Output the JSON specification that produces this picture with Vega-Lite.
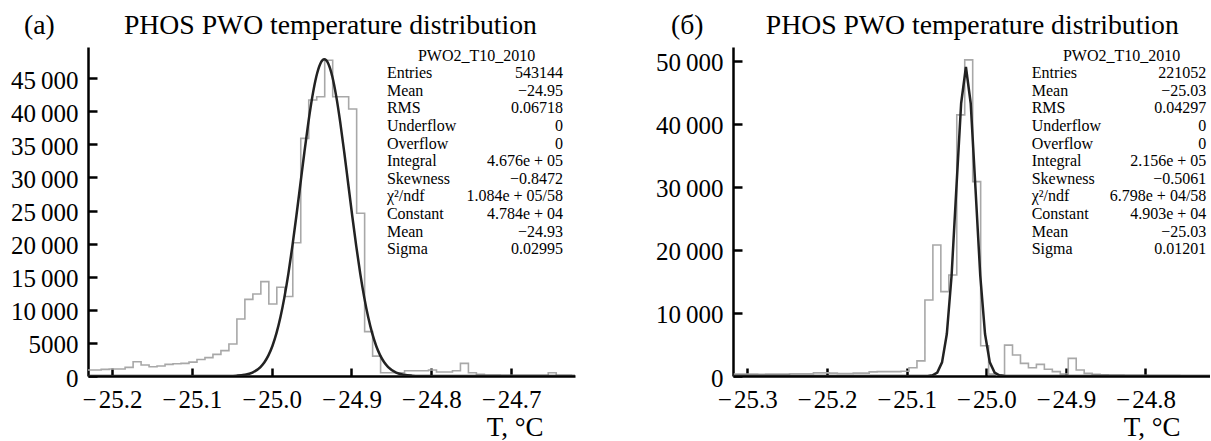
{
  "$schema": "https://vega.github.io/schema/vega-lite/v6.json",
  "padding": {"left": 10, "top": 12, "right": 0, "bottom": 0},
  "bounds": "flush",
  "spacing": 158,
  "background": "white",
  "config": {
    "view": {"stroke": null},
    "font": "Liberation Serif",
    "axis": {
      "domainColor": "black", "domainWidth": 2.5, "tickColor": "black", "tickWidth": 2.5,
      "labelFont": "Liberation Serif", "labelFontSize": 25, "labelColor": "black",
      "grid": false, "titleFont": "Liberation Serif", "titleFontSize": 27,
      "titleFontWeight": "normal", "titleColor": "black", "labelFlush": false, "labelOverlap": false
    },
    "axisQuantitative": {"labelOverlap": false},
    "axisX": {"tickSize": -8, "labelPadding": 39, "labelBaseline": "alphabetic", "titleAlign": "right", "titleBaseline": "alphabetic", "titleY": 59, "titleAnchor": "start", "labelOverlap": false},
    "axisY": {"tickSize": -9, "labelPadding": 19, "labelOffset": 2, "labelOverlap": false, "labelSeparation": -30}
  },
  "datasets": {
    "histA": [
      {"t": -25.2335, "n": 900}, {"t": -25.2235, "n": 900}, {"t": -25.2135, "n": 1000}, {"t": -25.2035, "n": 1050},
      {"t": -25.1935, "n": 1050}, {"t": -25.1835, "n": 1300}, {"t": -25.1735, "n": 2150}, {"t": -25.1635, "n": 1660},
      {"t": -25.1535, "n": 1400}, {"t": -25.1435, "n": 1500}, {"t": -25.1335, "n": 1760}, {"t": -25.1235, "n": 1860},
      {"t": -25.1135, "n": 1910}, {"t": -25.1035, "n": 2100}, {"t": -25.0935, "n": 2500}, {"t": -25.0835, "n": 2770},
      {"t": -25.0735, "n": 3270}, {"t": -25.0635, "n": 3830}, {"t": -25.0535, "n": 4830}, {"t": -25.0435, "n": 8600},
      {"t": -25.0335, "n": 11580}, {"t": -25.0235, "n": 12380}, {"t": -25.0135, "n": 14250}, {"t": -25.0035, "n": 10880},
      {"t": -24.9935, "n": 13400}, {"t": -24.9835, "n": 12000}, {"t": -24.9735, "n": 20140}, {"t": -24.9635, "n": 35900},
      {"t": -24.9535, "n": 41690}, {"t": -24.9435, "n": 42190}, {"t": -24.9335, "n": 47700}, {"t": -24.9235, "n": 42190},
      {"t": -24.9135, "n": 42190}, {"t": -24.9035, "n": 40330}, {"t": -24.8935, "n": 24580}, {"t": -24.8835, "n": 6700},
      {"t": -24.8735, "n": 3000}, {"t": -24.8635, "n": 500}, {"t": -24.8535, "n": 500}, {"t": -24.8435, "n": 500},
      {"t": -24.8335, "n": 800}, {"t": -24.8235, "n": 800}, {"t": -24.8135, "n": 800}, {"t": -24.8035, "n": 900},
      {"t": -24.7935, "n": 600}, {"t": -24.7835, "n": 600}, {"t": -24.7735, "n": 800}, {"t": -24.7635, "n": 1900},
      {"t": -24.7535, "n": 500}, {"t": -24.7435, "n": 250}, {"t": -24.7335, "n": 150}, {"t": -24.7235, "n": 150},
      {"t": -24.7135, "n": 120}, {"t": -24.7035, "n": 120}, {"t": -24.6935, "n": 100}, {"t": -24.6835, "n": 100},
      {"t": -24.6735, "n": 100}, {"t": -24.6635, "n": 100}, {"t": -24.6535, "n": 500}, {"t": -24.6435, "n": 100},
      {"t": -24.6335, "n": 100}, {"t": -24.6235, "n": 100}
    ],
    "fitA": [
      {"t": -25.23, "f": 0}, {"t": -25.1, "f": 0}, {"t": -25.074, "f": 1}, {"t": -25.054, "f": 16}, {"t": -25.044, "f": 56},
      {"t": -25.034, "f": 182}, {"t": -25.024, "f": 523}, {"t": -25.014, "f": 1350}, {"t": -25.009, "f": 2080},
      {"t": -25.004, "f": 3116}, {"t": -24.999, "f": 4539}, {"t": -24.994, "f": 6431}, {"t": -24.989, "f": 8861},
      {"t": -24.984, "f": 11875}, {"t": -24.979, "f": 15473}, {"t": -24.974, "f": 19609}, {"t": -24.969, "f": 24168},
      {"t": -24.964, "f": 28968}, {"t": -24.959, "f": 33766}, {"t": -24.954, "f": 38280}, {"t": -24.949, "f": 42201},
      {"t": -24.944, "f": 45246}, {"t": -24.939, "f": 47178}, {"t": -24.934, "f": 47840}, {"t": -24.929, "f": 47178},
      {"t": -24.924, "f": 45246}, {"t": -24.919, "f": 42201}, {"t": -24.914, "f": 38280}, {"t": -24.909, "f": 33766},
      {"t": -24.904, "f": 28968}, {"t": -24.899, "f": 24168}, {"t": -24.894, "f": 19609}, {"t": -24.889, "f": 15473},
      {"t": -24.884, "f": 11875}, {"t": -24.879, "f": 8861}, {"t": -24.874, "f": 6431}, {"t": -24.869, "f": 4539},
      {"t": -24.864, "f": 3116}, {"t": -24.859, "f": 2080}, {"t": -24.854, "f": 1350}, {"t": -24.844, "f": 523},
      {"t": -24.834, "f": 182}, {"t": -24.824, "f": 56}, {"t": -24.814, "f": 16}, {"t": -24.794, "f": 1}, {"t": -24.62, "f": 0}
    ],
    "statsA": [
      {"row": 0, "name": "PWO2_T10_2010", "val": ""},
      {"row": 1, "name": "Entries", "val": "543144"},
      {"row": 2, "name": "Mean", "val": "\u221224.95"},
      {"row": 3, "name": "RMS", "val": "0.06718"},
      {"row": 4, "name": "Underflow", "val": "0"},
      {"row": 5, "name": "Overflow", "val": "0"},
      {"row": 6, "name": "Integral", "val": "4.676e + 05"},
      {"row": 7, "name": "Skewness", "val": "\u22120.8472"},
      {"row": 8, "name": "\u03c7\u00b2/ndf", "val": "1.084e + 05/58"},
      {"row": 9, "name": "Constant", "val": "4.784e + 04"},
      {"row": 10, "name": "Mean", "val": "\u221224.93"},
      {"row": 11, "name": "Sigma", "val": "0.02995"}
    ],
    "histB": [
      {"t": -25.317, "n": 300}, {"t": -25.307, "n": 300}, {"t": -25.297, "n": 300}, {"t": -25.287, "n": 250},
      {"t": -25.277, "n": 300}, {"t": -25.267, "n": 300}, {"t": -25.257, "n": 300}, {"t": -25.247, "n": 350},
      {"t": -25.237, "n": 350}, {"t": -25.227, "n": 350}, {"t": -25.217, "n": 500}, {"t": -25.207, "n": 500},
      {"t": -25.197, "n": 450}, {"t": -25.187, "n": 400}, {"t": -25.177, "n": 400}, {"t": -25.167, "n": 450},
      {"t": -25.157, "n": 450}, {"t": -25.147, "n": 650}, {"t": -25.137, "n": 700}, {"t": -25.127, "n": 700},
      {"t": -25.117, "n": 700}, {"t": -25.107, "n": 750}, {"t": -25.097, "n": 1300}, {"t": -25.087, "n": 2400},
      {"t": -25.077, "n": 12060}, {"t": -25.067, "n": 20790}, {"t": -25.057, "n": 13380}, {"t": -25.047, "n": 16030},
      {"t": -25.037, "n": 41430}, {"t": -25.027, "n": 50160}, {"t": -25.017, "n": 30840}, {"t": -25.007, "n": 4800},
      {"t": -24.997, "n": 300}, {"t": -24.987, "n": 200}, {"t": -24.977, "n": 4900}, {"t": -24.967, "n": 3330},
      {"t": -24.957, "n": 2010}, {"t": -24.947, "n": 1320}, {"t": -24.937, "n": 1850}, {"t": -24.927, "n": 1060},
      {"t": -24.917, "n": 690}, {"t": -24.907, "n": 320}, {"t": -24.897, "n": 2800}, {"t": -24.887, "n": 950},
      {"t": -24.877, "n": 420}, {"t": -24.867, "n": 250}, {"t": -24.857, "n": 200}, {"t": -24.847, "n": 150},
      {"t": -24.837, "n": 150}, {"t": -24.827, "n": 100}, {"t": -24.817, "n": 100}, {"t": -24.807, "n": 100},
      {"t": -24.797, "n": 80}, {"t": -24.787, "n": 80}, {"t": -24.777, "n": 60}, {"t": -24.767, "n": 60},
      {"t": -24.757, "n": 50}, {"t": -24.747, "n": 50}, {"t": -24.737, "n": 40}, {"t": -24.727, "n": 40},
      {"t": -24.717, "n": 40}
    ],
    "fitB": [
      {"t": -25.318, "f": 0}, {"t": -25.09, "f": 0}, {"t": -25.0795, "f": 2}, {"t": -25.0735, "f": 17},
      {"t": -25.0675, "f": 108}, {"t": -25.0615, "f": 549}, {"t": -25.0555, "f": 2166}, {"t": -25.0495, "f": 6658},
      {"t": -25.0435, "f": 15948}, {"t": -25.0375, "f": 29763}, {"t": -25.0315, "f": 43278}, {"t": -25.0255, "f": 49030},
      {"t": -25.0195, "f": 43278}, {"t": -25.0135, "f": 29763}, {"t": -25.0075, "f": 15948}, {"t": -25.0015, "f": 6658},
      {"t": -24.9955, "f": 2166}, {"t": -24.9895, "f": 549}, {"t": -24.9835, "f": 108}, {"t": -24.9775, "f": 17},
      {"t": -24.9715, "f": 2}, {"t": -24.96, "f": 0}, {"t": -24.719, "f": 0}
    ],
    "statsB": [
      {"row": 0, "name": "PWO2_T10_2010", "val": ""},
      {"row": 1, "name": "Entries", "val": "221052"},
      {"row": 2, "name": "Mean", "val": "\u221225.03"},
      {"row": 3, "name": "RMS", "val": "0.04297"},
      {"row": 4, "name": "Underflow", "val": "0"},
      {"row": 5, "name": "Overflow", "val": "0"},
      {"row": 6, "name": "Integral", "val": "2.156e + 05"},
      {"row": 7, "name": "Skewness", "val": "\u22120.5061"},
      {"row": 8, "name": "\u03c7\u00b2/ndf", "val": "6.798e + 04/58"},
      {"row": 9, "name": "Constant", "val": "4.903e + 04"},
      {"row": 10, "name": "Mean", "val": "\u221225.03"},
      {"row": 11, "name": "Sigma", "val": "0.01201"}
    ]
  },
  "hconcat": [
    {
      "width": 487, "height": 329,
      "title": {"text": "(a)\u00a0\u00a0\u00a0\u00a0\u00a0\u00a0\u00a0\u00a0\u00a0\u00a0PHOS PWO temperature distribution", "anchor": "start", "frame": "group", "dx": -64, "offset": -15, "baseline": "alphabetic", "fontSize": 27.7, "fontWeight": "normal", "font": "Liberation Serif", "color": "black"},
      "layer": [
        {
          "layer": [
            {
              "data": {"name": "histA"},
              "mark": {"type": "line", "interpolate": "step-after", "color": "#a8a8a8", "strokeWidth": 1.6, "clip": true},
              "encoding": {
                "x": {"field": "t", "type": "quantitative", "scale": {"domain": [-25.23, -24.62], "nice": false, "zero": false},
                  "axis": {"values": [-25.2, -25.1, -25.0, -24.9, -24.8, -24.7], "labelExpr": "'\u2212\u200a' + format(abs(datum.value), '.1f')", "title": "T, \u00b0C", "titleX": 455, "labelOverlap": false}},
                "y": {"field": "n", "type": "quantitative", "scale": {"domain": [0, 49700], "nice": false, "zero": false},
                  "axis": {"values": [0, 5000, 10000, 15000, 20000, 25000, 30000, 35000, 40000, 45000], "labelExpr": "datum.value >= 10000 ? replace(format(datum.value, ',d'), ',', '\u2009') : format(datum.value, 'd')", "title": null, "labelOverlap": false, "labelSeparation": -30}}
              }
            },
            {
              "data": {"name": "fitA"},
              "mark": {"type": "line", "interpolate": "monotone", "color": "#222222", "strokeWidth": 2.5, "clip": true},
              "encoding": {"x": {"field": "t", "type": "quantitative"},
                "y": {"field": "f", "type": "quantitative",
                  "axis": {"values": [0, 5000, 10000, 15000, 20000, 25000, 30000, 35000, 40000, 45000], "labelExpr": "datum.value >= 10000 ? replace(format(datum.value, ',d'), ',', '\u2009') : format(datum.value, 'd')", "title": null, "labelOverlap": false, "labelSeparation": -30}}}
            }
          ]
        },
        {
          "data": {"name": "statsA"},
          "layer": [
            {
              "transform": [{"filter": "datum.row == 0"}],
              "mark": {"type": "text", "align": "center", "baseline": "middle", "fontSize": 16, "font": "Liberation Serif", "color": "black"},
              "encoding": {"x": {"datum": -24.7433, "type": "quantitative"}, "y": {"field": "row", "type": "quantitative", "scale": {"domain": [-0.494, 18.2], "reverse": true, "nice": false, "zero": false}, "axis": null}, "text": {"field": "name"}}
            },
            {
              "transform": [{"filter": "datum.row > 0"}],
              "mark": {"type": "text", "align": "left", "baseline": "middle", "fontSize": 16, "font": "Liberation Serif", "color": "black"},
              "encoding": {"x": {"datum": -24.8556, "type": "quantitative"}, "y": {"field": "row", "type": "quantitative", "axis": null}, "text": {"field": "name"}}
            },
            {
              "transform": [{"filter": "datum.row > 0"}],
              "mark": {"type": "text", "align": "right", "baseline": "middle", "fontSize": 16, "font": "Liberation Serif", "color": "black"},
              "encoding": {"x": {"datum": -24.635, "type": "quantitative"}, "y": {"field": "row", "type": "quantitative", "axis": null}, "text": {"field": "val"}}
            }
          ]
        }
      ],
      "resolve": {"scale": {"y": "independent"}, "axis": {"y": "independent"}}
    },
    {
      "width": 477, "height": 329,
      "title": {"text": "(\u0431)\u00a0\u00a0\u00a0\u00a0\u00a0\u00a0\u00a0\u00a0\u00a0PHOS PWO temperature distribution", "anchor": "start", "frame": "group", "dx": -62, "offset": -15, "baseline": "alphabetic", "fontSize": 27.7, "fontWeight": "normal", "font": "Liberation Serif", "color": "black"},
      "layer": [
        {
          "layer": [
            {
              "data": {"name": "histB"},
              "mark": {"type": "line", "interpolate": "step-after", "color": "#a8a8a8", "strokeWidth": 1.6, "clip": true},
              "encoding": {
                "x": {"field": "t", "type": "quantitative", "scale": {"domain": [-25.318, -24.719], "nice": false, "zero": false},
                  "axis": {"values": [-25.3, -25.2, -25.1, -25.0, -24.9, -24.8], "labelExpr": "'\u2212\u200a' + format(abs(datum.value), '.1f')", "title": "T, \u00b0C", "titleX": 447, "labelOverlap": false}},
                "y": {"field": "n", "type": "quantitative", "scale": {"domain": [0, 52200], "nice": false, "zero": false},
                  "axis": {"values": [0, 10000, 20000, 30000, 40000, 50000], "labelExpr": "datum.value >= 10000 ? replace(format(datum.value, ',d'), ',', '\u2009') : format(datum.value, 'd')", "title": null, "labelOverlap": false}}
              }
            },
            {
              "data": {"name": "fitB"},
              "mark": {"type": "line", "interpolate": "linear", "color": "#222222", "strokeWidth": 2.5, "clip": true},
              "encoding": {"x": {"field": "t", "type": "quantitative"}, "y": {"field": "f", "type": "quantitative"}}
            }
          ]
        },
        {
          "data": {"name": "statsB"},
          "layer": [
            {
              "transform": [{"filter": "datum.row == 0"}],
              "mark": {"type": "text", "align": "center", "baseline": "middle", "fontSize": 16, "font": "Liberation Serif", "color": "black"},
              "encoding": {"x": {"datum": -24.83, "type": "quantitative"}, "y": {"field": "row", "type": "quantitative", "scale": {"domain": [-0.494, 18.2], "reverse": true, "nice": false, "zero": false}, "axis": null}, "text": {"field": "name"}}
            },
            {
              "transform": [{"filter": "datum.row > 0"}],
              "mark": {"type": "text", "align": "left", "baseline": "middle", "fontSize": 16, "font": "Liberation Serif", "color": "black"},
              "encoding": {"x": {"datum": -24.9429, "type": "quantitative"}, "y": {"field": "row", "type": "quantitative", "axis": null}, "text": {"field": "name"}}
            },
            {
              "transform": [{"filter": "datum.row > 0"}],
              "mark": {"type": "text", "align": "right", "baseline": "middle", "fontSize": 16, "font": "Liberation Serif", "color": "black"},
              "encoding": {"x": {"datum": -24.7236, "type": "quantitative"}, "y": {"field": "row", "type": "quantitative", "axis": null}, "text": {"field": "val"}}
            }
          ]
        }
      ],
      "resolve": {"scale": {"y": "independent"}, "axis": {"y": "independent"}}
    }
  ]
}
